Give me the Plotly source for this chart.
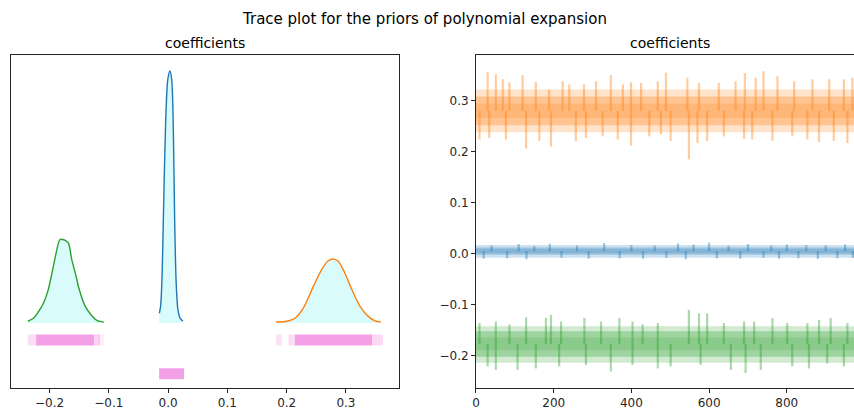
import plotly.graph_objects as go

# ---------------- data ----------------
# KDE curves (x value, density)
green_kde_x = [-0.2366, -0.2270, -0.2190, -0.2103, -0.2020, -0.1960, -0.1906, -0.1850, -0.1820,
               -0.1760, -0.1720, -0.1681, -0.1624, -0.1550, -0.1512, -0.1400, -0.1287, -0.1203, -0.1085]
green_kde_y = [0.4, 1.1, 2.6, 4.7, 8.0, 11.8, 15.5, 19.0, 19.9,
               19.8, 19.5, 19.0, 15.0, 11.0, 8.6, 4.0, 1.7, 0.6, 0.2]
blue_kde_x = [-0.0148, -0.0126, -0.0100, -0.0080, -0.0040, -0.0005, 0.0030, 0.0060,
              0.0085, 0.0110, 0.0135, 0.0165, 0.0200, 0.0235, 0.0253]
blue_kde_y = [2.3, 4.0, 12.0, 25.0, 48.5, 58.0, 60.0, 58.0,
              48.5, 25.0, 10.0, 3.2, 1.2, 0.6, 0.5]
orange_kde_x = [0.1821, 0.2000, 0.2140, 0.2280, 0.2450, 0.2590, 0.2700, 0.2790,
                0.2870, 0.2980, 0.3100, 0.3240, 0.3380, 0.3490, 0.3590]
orange_kde_y = [0.2, 0.4, 1.1, 3.5, 8.7, 12.7, 14.8, 15.2,
                14.7, 11.9, 7.9, 3.9, 1.5, 0.5, 0.2]

# rug extents (start, end, relative density)
green_rug = [(-0.2366, -0.2226, 0.35), (-0.2226, -0.1250, 1.0), (-0.1250, -0.1190, 0.45),
             (-0.1190, -0.1150, 0.6), (-0.1150, -0.1085, 0.2)]
blue_rug = [(-0.0152, 0.0270, 1.0)]
orange_rug = [(0.1821, 0.1920, 0.3), (0.2030, 0.2140, 0.35), (0.2140, 0.3440, 1.0),
              (0.3440, 0.3626, 0.4)]

# trace extremes: (draw, value)
orange_hi = [(30, 0.356), (51, 0.352), (69, 0.342), (86, 0.336), (120, 0.350), (154, 0.337),
             (188, 0.322), (223, 0.338), (240, 0.332), (278, 0.332), (309, 0.338), (347, 0.350),
             (378, 0.332), (399, 0.336), (425, 0.335), (468, 0.338), (489, 0.355), (544, 0.345),
             (574, 0.335), (625, 0.335), (668, 0.338), (692, 0.354), (720, 0.345), (740, 0.358),
             (776, 0.348), (819, 0.338), (866, 0.342), (909, 0.342), (947, 0.342), (969, 0.345)]
orange_lo = [(9, 0.224), (34, 0.227), (77, 0.224), (129, 0.206), (163, 0.221), (193, 0.210),
             (257, 0.221), (283, 0.227), (326, 0.230), (365, 0.224), (399, 0.212), (446, 0.230),
             (476, 0.234), (501, 0.221), (548, 0.185), (570, 0.217), (595, 0.221), (638, 0.230),
             (690, 0.225), (711, 0.224), (763, 0.221), (814, 0.230), (853, 0.224), (883, 0.219),
             (921, 0.221), (956, 0.217)]
green_hi = [(9, -0.136), (51, -0.133), (86, -0.139), (129, -0.125), (180, -0.126), (193, -0.120),
            (219, -0.133), (279, -0.126), (322, -0.133), (369, -0.126), (403, -0.133), (429, -0.139),
            (468, -0.136), (548, -0.110), (574, -0.117), (595, -0.117), (638, -0.136), (690, -0.133),
            (716, -0.133), (763, -0.126), (801, -0.136), (853, -0.136), (883, -0.130), (913, -0.126),
            (956, -0.136)]
green_lo = [(30, -0.221), (51, -0.228), (107, -0.228), (154, -0.225), (214, -0.221), (283, -0.218),
            (347, -0.231), (403, -0.218), (468, -0.225), (501, -0.221), (578, -0.218), (656, -0.228),
            (694, -0.234), (733, -0.228), (814, -0.221), (857, -0.225), (904, -0.215), (947, -0.221)]
blue_hi = [(40, 0.016), (110, 0.019), (150, 0.015), (190, 0.020), (260, 0.016), (330, 0.021),
           (400, 0.017), (460, 0.016), (520, 0.020), (560, 0.018), (600, 0.022), (650, 0.016),
           (700, 0.019), (760, 0.016), (800, 0.018), (850, 0.017), (900, 0.016), (950, 0.018)]
blue_lo = [(20, -0.010), (80, -0.009), (130, -0.011), (220, -0.008), (290, -0.010), (370, -0.009),
           (430, -0.010), (490, -0.008), (540, -0.011), (620, -0.009), (680, -0.010), (740, -0.008),
           (780, -0.010), (830, -0.009), (880, -0.010), (930, -0.009), (970, -0.008)]

# dense core of each trace (lo, centre, hi)
draw_span = [0, 1000]
orange_core = (0.252, 0.280, 0.308)
orange_mid = (0.238, 0.322)
green_core = (-0.202, -0.177, -0.152)
green_mid = (-0.214, -0.142)
blue_core = (-0.002, 0.005, 0.012)
blue_mid = (-0.008, 0.017)

suptitle = "Trace plot for the priors of polynomial expansion"
panel_title = "coefficients"

# ---------------- styling ----------------
C_BLUE, C_ORANGE, C_GREEN = "#1f77b4", "#ff7f0e", "#2ca02c"
FILL = "#d9fbfb"
RUG = "244,160,230"
FONT = "DejaVu Sans"

def rgba(hexc, a):
    h = hexc.lstrip("#")
    r, g, b = int(h[0:2], 16), int(h[2:4], 16), int(h[4:6], 16)
    return f"rgba({r},{g},{b},{a})"

fig = go.Figure()

# ---------- left panel: KDE ----------
for xs, ys, col in [(green_kde_x, green_kde_y, C_GREEN),
                    (blue_kde_x, blue_kde_y, C_BLUE),
                    (orange_kde_x, orange_kde_y, C_ORANGE)]:
    fig.add_trace(go.Scatter(x=xs, y=ys, mode="lines", fill="tozeroy", fillcolor=FILL,
                             line=dict(color=col, width=1.4, shape="spline", smoothing=0.8),
                             xaxis="x", yaxis="y", showlegend=False, hoverinfo="skip"))

for segs, level in [(green_rug, -4.05), (orange_rug, -4.05), (blue_rug, -12.1)]:
    for a, b, dens in segs:
        fig.add_trace(go.Scatter(x=[a, b], y=[level, level], mode="lines",
                                 line=dict(color=f"rgba({RUG},{dens})", width=11),
                                 xaxis="x", yaxis="y", showlegend=False, hoverinfo="skip"))

# ---------- right panel: traces ----------
def streaks(points, centre):
    xs, ys = [], []
    for d, v in points:
        xs += [d, d, None]
        ys += [centre, v, None]
    return xs, ys

def band(lo, hi, col, a):
    fig.add_trace(go.Scatter(x=draw_span, y=[lo] * 2, mode="lines", line=dict(width=0),
                             xaxis="x2", yaxis="y2", showlegend=False, hoverinfo="skip"))
    fig.add_trace(go.Scatter(x=draw_span, y=[hi] * 2, mode="lines", fill="tonexty",
                             fillcolor=rgba(col, a), line=dict(width=0),
                             xaxis="x2", yaxis="y2", showlegend=False, hoverinfo="skip"))

for hi, lo, core, mid, col in [(orange_hi, orange_lo, orange_core, orange_mid, C_ORANGE),
                               (blue_hi, blue_lo, blue_core, blue_mid, C_BLUE),
                               (green_hi, green_lo, green_core, green_mid, C_GREEN)]:
    band(mid[0], mid[1], col, 0.22)
    band(core[0], core[2], col, 0.30)
    band((core[0] + core[1]) / 2, (core[1] + core[2]) / 2, col, 0.18)
    sx, sy = streaks(hi + lo, core[1])
    fig.add_trace(go.Scatter(x=sx, y=sy, mode="lines",
                             line=dict(color=rgba(col, 0.4), width=2.2),
                             xaxis="x2", yaxis="y2", showlegend=False, hoverinfo="skip"))

axis_common = dict(showgrid=False, zeroline=False, showline=True, linecolor="#262626",
                   linewidth=1, ticks="outside", ticklen=4, tickcolor="#262626",
                   tickfont=dict(family=FONT, size=12, color="#262626"), mirror=True)

fig.update_layout(
    width=854, height=410,
    margin=dict(l=11, r=0, t=55, b=22),
    plot_bgcolor="white", paper_bgcolor="white",
    xaxis=dict(domain=[0, 0.4603], range=[-0.265, 0.3895], tickvals=[-0.2, -0.1, 0.0, 0.1, 0.2, 0.3],
               tickformat=".1f", anchor="y", **axis_common),
    yaxis=dict(domain=[0, 1], range=[-15.5, 63.8], showticklabels=False, anchor="x",
               **axis_common),
    xaxis2=dict(domain=[0.5516, 1], range=[0, 973], tickvals=[0, 200, 400, 600, 800],
                anchor="y2", **axis_common),
    yaxis2=dict(domain=[0, 1], range=[-0.2633, 0.3896], tickvals=[-0.2, -0.1, 0.0, 0.1, 0.2, 0.3],
                tickformat=".1f", anchor="x2", **axis_common),
    annotations=[
        dict(text=suptitle, xref="paper", yref="paper", x=0.49, y=1.108, showarrow=False,
             font=dict(family=FONT, size=15, color="black"), xanchor="center", yanchor="middle"),
        dict(text=panel_title, xref="paper", yref="paper", x=0.2301, y=1.036, showarrow=False,
             font=dict(family=FONT, size=14, color="black"), xanchor="center", yanchor="middle"),
        dict(text=panel_title, xref="paper", yref="paper", x=0.7817, y=1.036, showarrow=False,
             font=dict(family=FONT, size=14, color="black"), xanchor="center", yanchor="middle"),
    ],
)
fig.update_yaxes(ticks="", selector=dict(anchor="x"))

fig.write_html("out.html")
